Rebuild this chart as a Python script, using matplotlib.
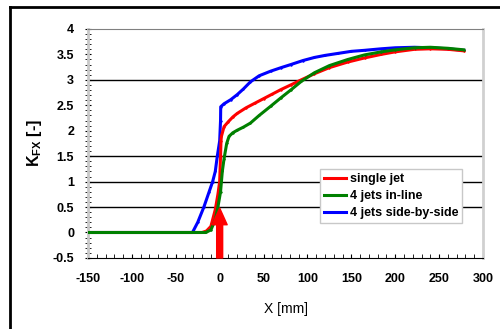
import matplotlib.pyplot as plt
from matplotlib.lines import Line2D
from matplotlib.ticker import MultipleLocator, FormatStrFormatter

plt.rcParams['font.family'] = 'Liberation Sans'
plt.rcParams['axes.unicode_minus'] = False

# single jet
x_single = [-150, -20, -15, -10, -5, -2, 0, 1, 1.5, 2, 5, 10, 15, 20, 30, 40, 50, 60, 70, 81,
            93, 108, 125, 146, 165, 184, 200, 222, 240, 260, 278]
k_single = [0, 0, 0.03, 0.12, 0.45, 0.75, 1.0, 1.5, 1.8, 1.89, 2.08, 2.18, 2.27, 2.34, 2.45,
            2.54, 2.63, 2.72, 2.81, 2.9, 3.0, 3.12, 3.24, 3.35, 3.43, 3.5, 3.55, 3.6, 3.61,
            3.6, 3.57]

# 4 jets in-line
x_inline = [-150, -16, -10, -5, -2, 1, 3, 5, 8, 10.7, 15, 20, 27, 35, 45, 58, 70, 81, 93, 108,
            125, 146, 165, 184, 200, 222, 240, 260, 278]
k_inline = [0, 0, 0.05, 0.25, 0.5, 0.8, 1.2, 1.45, 1.75, 1.89, 1.96, 2.01, 2.07, 2.15, 2.3,
            2.48, 2.65, 2.8, 2.97, 3.14, 3.28, 3.4, 3.49, 3.55, 3.59, 3.63, 3.64, 3.62, 3.59]

# 4 jets side-by-side
x_side = [-150, -31, -25, -18, -12, -8, -5, -2.7, 0, 1, 1.2, 5, 12.6, 20, 27, 35, 45, 58,
          70, 81, 95, 108, 120, 135, 150, 165, 184, 200, 222, 240, 260, 278]
k_side = [0, 0, 0.2, 0.5, 0.8, 1.0, 1.2, 1.5, 1.8, 2.2, 2.47, 2.53, 2.61, 2.71, 2.82, 2.96,
          3.08, 3.17, 3.24, 3.3, 3.38, 3.44, 3.48, 3.52, 3.56, 3.58, 3.61, 3.63, 3.64,
          3.63, 3.61, 3.58]

fig = plt.figure(figsize=(5, 3.29), dpi=100)
ax = fig.add_axes([0.176, 0.216, 0.79, 0.696])

for yg in [3, 1.5, 1, 0.5]:
    ax.axhline(yg, color='black', lw=1, zorder=1)

ax.plot(x_single, k_single, color='red', lw=2.2, marker='+', ms=2, label='single jet', zorder=3)
ax.plot(x_inline, k_inline, color='green', lw=2.2, marker='+', ms=2, label='4 jets in-line', zorder=4)
ax.plot(x_side, k_side, color='blue', lw=2.2, marker='+', ms=2, label='4 jets side-by-side', zorder=2)

ax.annotate('', xy=(0, 0.48), xytext=(0, -0.5),
            arrowprops=dict(facecolor='red', edgecolor='red', width=4.3, headwidth=10.8,
                            headlength=12), zorder=5)

ax.set_xlim(-150, 300)
ax.set_ylim(-0.5, 4)
ax.xaxis.set_major_locator(MultipleLocator(50))
ax.xaxis.set_minor_locator(MultipleLocator(10))
ax.yaxis.set_major_locator(MultipleLocator(0.5))
ax.yaxis.set_minor_locator(MultipleLocator(0.1))
ax.yaxis.set_major_formatter(FormatStrFormatter('%g'))
ax.tick_params(axis='x', which='both', direction='in', length=3, pad=11, labelsize=9)
ax.tick_params(axis='y', which='both', direction='inout', length=4, pad=8, labelsize=9)
for lab in ax.get_xticklabels() + ax.get_yticklabels():
    lab.set_fontweight('bold')

ax.spines['left'].set_color('#c8c8c8')
ax.spines['left'].set_linewidth(2)
ax.spines['right'].set_color('#d0d0d0')
ax.spines['right'].set_linewidth(2)
ax.spines['top'].set_color('#808080')
ax.spines['bottom'].set_color('black')

ax.set_xlabel('X [mm]', fontsize=10, labelpad=12)
ax.set_ylabel(r'K$_{\mathregular{FX}}$ [-]', fontsize=11.5, fontweight='bold', labelpad=6)

leg = ax.legend(loc='lower left', bbox_to_anchor=(0.587, 0.153), prop={'weight': 'bold', 'size': 9},
                frameon=True, fancybox=False, handlelength=1.8, handletextpad=0.3,
                labelspacing=0.4, borderpad=0.3, borderaxespad=0)
leg.get_frame().set_edgecolor('#c8c8c8')
leg.get_frame().set_facecolor('white')
leg.get_frame().set_alpha(1)

fig.add_artist(Line2D([0.02, 1], [1 - 7 / 329, 1 - 7 / 329], color='black', lw=2))
fig.add_artist(Line2D([0.02, 0.02], [0, 1 - 7 / 329], color='black', lw=2))

fig.savefig('out.png', dpi=100)
